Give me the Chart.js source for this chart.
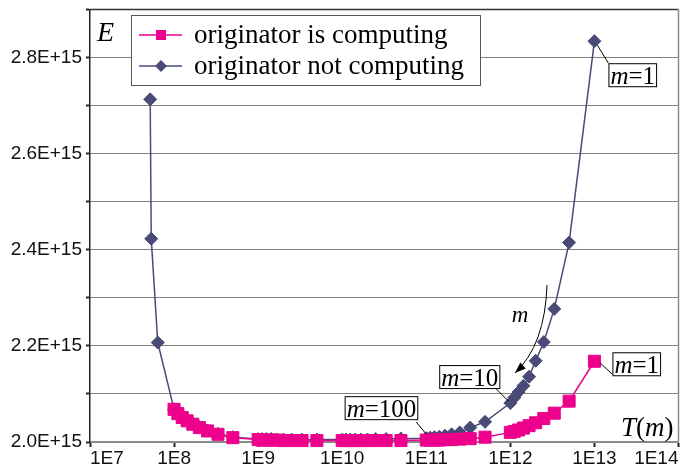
<!DOCTYPE html>
<html>
<head>
<meta charset="utf-8">
<title>E versus T(m)</title>
<script src="https://cdn.jsdelivr.net/npm/chart.js@4.4.1/dist/chart.umd.min.js"></script>
<style>
  html, body { margin: 0; padding: 0; background: #fff; }
  #wrap { position: relative; width: 688px; height: 467px; }
</style>
</head>
<body>
<div id="wrap"><canvas id="energyChart"></canvas></div>
<script>
// T(m) for m = 1..10, 20..100, 200..1000, 2000..10000, 20000..100000
const tValues = [
  1e13, 5e12, 3.33e12, 2.5e12, 2e12, 1.67e12, 1.43e12, 1.25e12, 1.11e12, 1e12,
  5e11, 3.33e11, 2.5e11, 2e11, 1.67e11, 1.43e11, 1.25e11, 1.11e11, 1e11,
  5e10, 3.33e10, 2.5e10, 2e10, 1.67e10, 1.43e10, 1.25e10, 1.11e10, 1e10,
  5e9, 3.33e9, 2.5e9, 2e9, 1.67e9, 1.43e9, 1.25e9, 1.11e9, 1e9,
  5e8, 3.33e8, 2.5e8, 2e8, 1.67e8, 1.43e8, 1.25e8, 1.11e8, 1e8
];

// E in units of 1E+15
const computingE = [
  2.168, 2.085, 2.060, 2.049, 2.040, 2.034, 2.029, 2.025, 2.022, 2.020,
  2.010, 2.007, 2.006, 2.005, 2.005, 2.004, 2.004, 2.004, 2.004,
  2.003, 2.003, 2.003, 2.003, 2.003, 2.003, 2.003, 2.003, 2.003,
  2.003, 2.003, 2.003, 2.003, 2.004, 2.004, 2.004, 2.004, 2.005,
  2.009, 2.016, 2.023, 2.030, 2.037, 2.044, 2.051, 2.059, 2.068
];

const notComputingE = [
  2.834, 2.415, 2.277, 2.208, 2.169, 2.136, 2.117, 2.104, 2.092, 2.081,
  2.042, 2.030, 2.020, 2.016, 2.013, 2.011, 2.010, 2.009, 2.008,
  2.007, 2.006, 2.006, 2.005, 2.005, 2.005, 2.005, 2.005, 2.005,
  2.005, 2.005, 2.005, 2.005, 2.005, 2.006, 2.006, 2.006, 2.006,
  2.010, 2.017, 2.024, 2.031, 2.038, 2.045, 2.052, 2.060, 2.068
];

// extra points of the "not computing" curve below 1E8
const notComputingTailT = [6.4e7, 5.35e7, 5.2e7];
const notComputingTailE = [2.207, 2.423, 2.713];

const xTickValues = [1e7, 1e8, 1e9, 1e10, 1e11, 1e12, 1e13, 1e14];
const xTickLabels = ['1E7', '1E8', '1E9', '1E10', '1E11', '1E12', '1E13', '1E14'];
const yTickValues = [2.0, 2.2, 2.4, 2.6, 2.8];
const yTickLabels = ['2.0E+15', '2.2E+15', '2.4E+15', '2.6E+15', '2.8E+15'];

const seriesNames = ['originator is computing', 'originator not computing'];
const PINK = '#ec008c';
const SLATE = '#4a4a78';
const SERIF = '"Liberation Serif", "Times New Roman", serif';
const SANS = '"Liberation Sans", Arial, sans-serif';

const computingPts = tValues.map((t, i) => ({ x: t, y: computingE[i] }));
const notComputingPts = tValues.map((t, i) => ({ x: t, y: notComputingE[i] }))
  .concat(notComputingTailT.map((t, i) => ({ x: t, y: notComputingTailE[i] })));

// draws a run of [text, italic] pieces on one baseline
function richText(ctx, parts, x, y, size, align) {
  const widths = parts.map(p => {
    ctx.font = (p[1] ? 'italic ' : '') + size + 'px ' + SERIF;
    return ctx.measureText(p[0]).width;
  });
  const total = widths.reduce((a, b) => a + b, 0);
  let cx = align === 'right' ? x - total : align === 'center' ? x - total / 2 : x;
  ctx.textAlign = 'left';
  parts.forEach((p, i) => {
    ctx.font = (p[1] ? 'italic ' : '') + size + 'px ' + SERIF;
    ctx.fillText(p[0], cx, y);
    cx += widths[i];
  });
  return total;
}

function textWidth(ctx, parts, size) {
  return parts.reduce((w, p) => {
    ctx.font = (p[1] ? 'italic ' : '') + size + 'px ' + SERIF;
    return w + ctx.measureText(p[0]).width;
  }, 0);
}

// "m=..." label in a thin box; x is the box's left or right edge, cy its middle
function boxedLabel(ctx, num, x, cy, side) {
  const size = 25;
  const parts = [['m', true], ['=' + num, false]];
  const w = textWidth(ctx, parts, size) + 4;
  const h = 24;
  const left = side === 'right' ? x - w : x;
  ctx.fillStyle = '#fff';
  ctx.fillRect(left, cy - h / 2, w, h);
  ctx.strokeStyle = '#000';
  ctx.lineWidth = 1;
  ctx.strokeRect(left + 0.5, cy - h / 2 + 0.5, w - 1, h - 1);
  ctx.fillStyle = '#000';
  richText(ctx, parts, left + 2, cy + size * 0.34, size, 'left');
}

function leader(ctx, x0, y0, x1, y1) {
  ctx.strokeStyle = '#000';
  ctx.lineWidth = 1;
  ctx.beginPath();
  ctx.moveTo(x0, y0);
  ctx.lineTo(x1, y1);
  ctx.stroke();
}

const notesPlugin = {
  id: 'notes',
  beforeDatasetsDraw(chart) {
    const { ctx, chartArea: a } = chart;
    ctx.save();
    ctx.lineWidth = 1.5;
    ctx.strokeStyle = '#333';
    ctx.beginPath();
    ctx.moveTo(a.left, a.top);
    ctx.lineTo(a.right, a.top);
    ctx.stroke();
    ctx.strokeStyle = '#8a8a8a';
    ctx.beginPath();
    ctx.moveTo(a.right, a.top);
    ctx.lineTo(a.right, a.bottom);
    ctx.stroke();
    ctx.restore();
  },
  afterDatasetsDraw(chart) {
    const { ctx, chartArea: a } = chart;
    const pink = chart.getDatasetMeta(0).data;
    const blue = chart.getDatasetMeta(1).data;
    ctx.save();
    ctx.textBaseline = 'alphabetic';
    ctx.fillStyle = '#000';

    // axis names
    richText(ctx, [['E', true]], a.left + 7, a.top + 31, 28, 'left');
    richText(ctx, [['T', true], ['(', false], ['m', true], [')', false]], a.right - 5, a.bottom - 6, 27, 'right');

    // point labels
    let p = blue[0];
    leader(ctx, p.x + 3, p.y + 4, p.x + 14, p.y + 22);
    boxedLabel(ctx, '1', p.x + 14, p.y + 34, 'left');
    p = pink[0];
    leader(ctx, p.x + 6, p.y + 2, p.x + 18, p.y + 13);
    boxedLabel(ctx, '1', p.x + 18, p.y + 3, 'left');
    p = blue[9];
    leader(ctx, p.x - 15, p.y - 15, p.x - 2, p.y - 2);
    boxedLabel(ctx, '10', p.x - 10, p.y - 26, 'right');
    p = blue[18];
    leader(ctx, p.x - 10, p.y - 16, p.x, p.y - 4);
    boxedLabel(ctx, '100', p.x - 8, p.y - 30, 'right');

    // curved arrow: direction of growing m
    ctx.strokeStyle = '#000';
    ctx.lineWidth = 1;
    const p0 = [547, 285], c = [545, 345], p1 = [515, 373];
    ctx.beginPath();
    ctx.moveTo(p0[0], p0[1]);
    ctx.quadraticCurveTo(c[0], c[1], p1[0], p1[1]);
    ctx.stroke();
    const ang = Math.atan2(p1[1] - c[1], p1[0] - c[0]);
    const len = 11, half = 4;
    ctx.beginPath();
    ctx.moveTo(p1[0], p1[1]);
    ctx.lineTo(p1[0] - len * Math.cos(ang) + half * Math.sin(ang), p1[1] - len * Math.sin(ang) - half * Math.cos(ang));
    ctx.lineTo(p1[0] - len * Math.cos(ang) - half * Math.sin(ang), p1[1] - len * Math.sin(ang) + half * Math.cos(ang));
    ctx.closePath();
    ctx.fill();
    richText(ctx, [['m', true]], 520, 322, 23, 'center');

    // legend box
    const lx = 131, ly = 15, lw = 350, lh = 71;
    ctx.fillStyle = '#fff';
    ctx.fillRect(lx, ly, lw, lh);
    ctx.strokeStyle = '#555';
    ctx.strokeRect(lx + 0.5, ly + 0.5, lw - 1, lh - 1);
    const rows = [35, 66];
    chart.data.datasets.forEach((ds, i) => {
      const y = rows[i];
      ctx.strokeStyle = ds.borderColor;
      ctx.lineWidth = 1.5;
      ctx.beginPath();
      ctx.moveTo(139, y);
      ctx.lineTo(182, y);
      ctx.stroke();
      ctx.fillStyle = ds.pointBackgroundColor;
      ctx.beginPath();
      if (ds.pointStyle === 'rect') {
        ctx.rect(156, y - 5, 10, 10);
      } else {
        ctx.moveTo(161, y - 6);
        ctx.lineTo(167, y);
        ctx.lineTo(161, y + 6);
        ctx.lineTo(155, y);
        ctx.closePath();
      }
      ctx.fill();
      ctx.fillStyle = '#000';
      richText(ctx, [[ds.label, false]], 194, y + 8, 27, 'left');
    });
    ctx.restore();
  }
};

new Chart(document.getElementById('energyChart'), {
  type: 'scatter',
  data: {
    datasets: [
      {
        label: seriesNames[0],
        data: computingPts,
        showLine: true,
        borderColor: PINK,
        borderWidth: 1.5,
        pointStyle: 'rect',
        pointRadius: 8.5,
        pointBackgroundColor: PINK,
        pointBorderColor: PINK,
        pointBorderWidth: 1,
        tension: 0,
        clip: false
      },
      {
        label: seriesNames[1],
        data: notComputingPts,
        showLine: true,
        borderColor: SLATE,
        borderWidth: 1.5,
        pointStyle: 'rectRot',
        pointRadius: 6.5,
        pointBackgroundColor: SLATE,
        pointBorderColor: SLATE,
        pointBorderWidth: 1,
        tension: 0,
        clip: false
      }
    ]
  },
  options: {
    responsive: true,
    maintainAspectRatio: false,
    animation: false,
    layout: { padding: { top: 8, right: 5, left: 0, bottom: 0 } },
    plugins: {
      legend: { display: false },
      tooltip: { enabled: false }
    },
    scales: {
      x: {
        type: 'logarithmic',
        min: 1e7,
        max: 1e14,
        afterBuildTicks: s => { s.ticks = xTickValues.map(v => ({ value: v })); },
        afterFit: s => { s.height = 25; s.paddingLeft = 0; s.paddingRight = 0; },
        grid: {
          drawOnChartArea: false,
          drawTicks: true,
          tickLength: 5,
          tickColor: '#222',
          tickWidth: 2
        },
        border: { display: true, color: '#8a8a8a', width: 2 },
        ticks: {
          autoSkip: false,
          maxRotation: 0,
          align: 'inner',
          padding: 0,
          color: '#111',
          font: { family: SANS, size: 19 },
          callback: v => xTickLabels[xTickValues.indexOf(v)]
        }
      },
      y: {
        min: 2.0,
        max: 2.9,
        afterFit: s => { s.width = 90; s.paddingTop = 0; s.paddingBottom = 0; },
        grid: {
          color: '#000',
          lineWidth: 1,
          tickLength: 4,
          tickColor: '#222',
          tickWidth: 2
        },
        border: { display: true, color: '#222', width: 1.5, dash: [1, 1] },
        ticks: {
          stepSize: 0.1,
          autoSkip: false,
          padding: 4,
          color: '#111',
          font: { family: SANS, size: 19 },
          callback: v => {
            const i = yTickValues.findIndex(t => Math.abs(t - v) < 1e-6);
            return i >= 0 ? yTickLabels[i] : '';
          }
        }
      }
    }
  },
  plugins: [notesPlugin]
});
</script>
</body>
</html>
